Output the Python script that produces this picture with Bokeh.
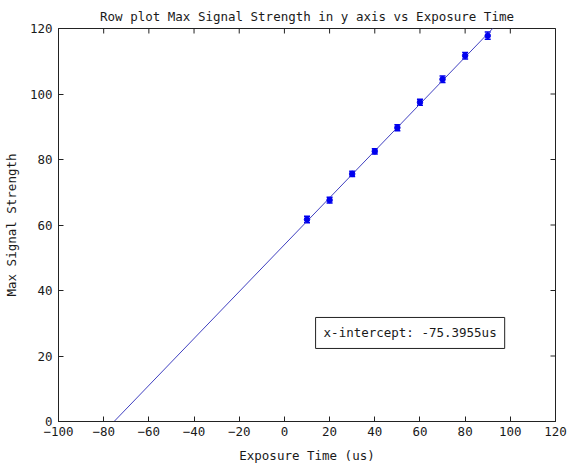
from bokeh.plotting import figure
from bokeh.models import ColumnDataSource, Whisker, Range1d, FixedTicker, Label
from bokeh.embed import file_html
from bokeh.resources import INLINE
import numpy as np

# Measured maximum signal per exposure time
exposure_us = [10, 20, 30, 40, 50, 60, 70, 80, 90]
max_signal = [61.7, 67.6, 75.6, 82.5, 89.7, 97.5, 104.5, 111.7, 117.8]
signal_err = [1.0, 0.9, 0.8, 0.8, 0.9, 0.9, 1.0, 1.0, 1.1]

# Linear fit parameters
fit_slope = 0.716
x_intercept = -75.3955

x_ticks = [-100, -80, -60, -40, -20, 0, 20, 40, 60, 80, 100, 120]
y_ticks = [0, 20, 40, 60, 80, 100, 120]
x_lim = (-100, 120)
y_lim = (0, 120)

FONT = "DejaVu Sans Mono"
TXT = "#1a1a1a"
EDGE = "#222222"

p = figure(width=567, height=466, output_backend="svg", toolbar_location=None,
           x_range=Range1d(*x_lim), y_range=Range1d(*y_lim),
           min_border_left=58, min_border_right=12,
           min_border_top=28, min_border_bottom=45,
           x_axis_label="Exposure Time (us)", y_axis_label="Max Signal Strength")
p.background_fill_color = "white"
p.border_fill_color = "white"
p.outline_line_color = EDGE
p.outline_line_width = 1
p.grid.visible = False

p.title.text = "Row plot Max Signal Strength in y axis vs Exposure Time"
p.title.align = "center"
p.title.text_font = FONT
p.title.text_font_size = "12.5px"
p.title.text_font_style = "normal"
p.title.text_color = TXT

p.xaxis.ticker = FixedTicker(ticks=x_ticks)
p.yaxis.ticker = FixedTicker(ticks=y_ticks)

for ax in p.axis:
    ax.major_tick_in = 5
    ax.major_tick_out = 0
    ax.minor_tick_in = 0
    ax.minor_tick_out = 0
    ax.axis_line_color = EDGE
    ax.major_tick_line_color = EDGE
    ax.major_label_text_font = FONT
    ax.major_label_text_font_size = "12.5px"
    ax.major_label_text_color = TXT
    ax.axis_label_text_font = FONT
    ax.axis_label_text_font_size = "12.5px"
    ax.axis_label_text_font_style = "normal"
    ax.axis_label_text_color = TXT

p.xaxis.major_label_standoff = 5
p.xaxis.axis_label_standoff = 9
p.yaxis.major_label_standoff = 6
p.yaxis.axis_label_standoff = 8

# Inward tick marks on the top and right edges of the box (half clipped by the frame)
p.scatter(x_ticks, [y_lim[1]] * len(x_ticks), marker="dash", angle=np.pi / 2,
          size=10, line_color=EDGE, line_width=1)
p.scatter([x_lim[1]] * len(y_ticks), y_ticks, marker="dash",
          size=10, line_color=EDGE, line_width=1)

# Fitted line, from the x-intercept out past the top of the plot
fit_x = np.array([x_intercept, x_lim[1]])
fit_y = fit_slope * (fit_x - x_intercept)
p.line(fit_x, fit_y, line_color="#4040c0", line_width=1)

# Data points with error bars
src = ColumnDataSource(dict(
    x=exposure_us, y=max_signal,
    lo=[v - e for v, e in zip(max_signal, signal_err)],
    hi=[v + e for v, e in zip(max_signal, signal_err)],
))
wh = Whisker(source=src, base="x", lower="lo", upper="hi",
             line_color="#0000ee", line_width=1.5)
for head in (wh.upper_head, wh.lower_head):
    head.size = 6
    head.line_color = "#0000ee"
    head.line_width = 1.5
p.add_layout(wh)
p.scatter("x", "y", source=src, size=5.5, marker="circle",
          fill_color="#0000ee", line_color="#0000ee")

# Annotation box with the fitted x-intercept
note = Label(x=13.8, y=22.3, text=f"x-intercept: {x_intercept}us",
             text_font=FONT, text_font_size="12.5px", text_color=TXT,
             background_fill_color="white", border_line_color=EDGE,
             border_line_width=1, padding=8)
p.add_layout(note)

open("out.html", "w").write(file_html(p, INLINE))
